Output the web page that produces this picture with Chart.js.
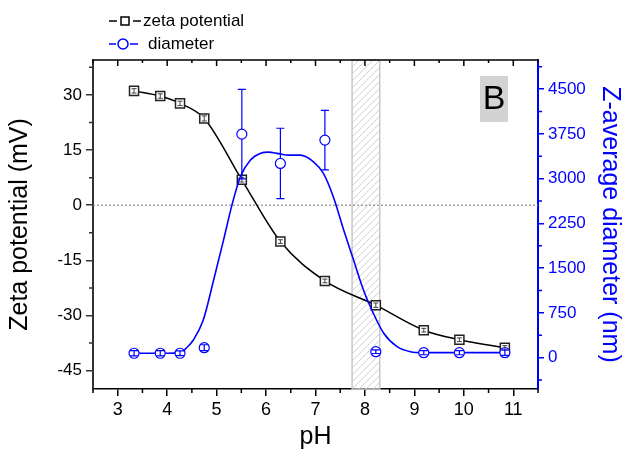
<!DOCTYPE html>
<html>
<head>
<meta charset="utf-8">
<script src="https://cdn.jsdelivr.net/npm/chart.js@4.4.1/dist/chart.umd.min.js"></script>
<style>
  body { margin: 0; background: #fff; }
</style>
</head>
<body>
<canvas id="myChart" width="625" height="452"></canvas>
<script>
// measured points
const ph = [3.33, 3.86, 4.26, 4.75, 5.51, 6.29, 7.19, 8.22, 9.19, 9.91, 10.83];
const zeta = [31.1, 29.7, 27.7, 23.6, 6.9, -9.9, -20.6, -27.2, -34.0, -36.6, -38.8];
const zetaErr = [0.6, 0.6, 0.6, 0.7, 0.6, 0.5, 0.5, 0.6, 0.5, 0.5, 0.6];
const diameter = [74, 74, 74, 167, 3747, 3256, 3647, 100, 84, 84, 84];
const diameterErr = [45, 45, 40, 50, 750, 590, 500, 30, 35, 35, 45];

// fitted diameter curve
const fitPh = [3.33, 4.0, 4.26, 4.4, 4.53, 4.73, 4.94, 5.14, 5.31, 5.48, 5.68, 5.88, 6.05, 6.25, 6.45, 6.69, 6.96, 7.16, 7.36, 7.57, 7.77, 7.97, 8.17, 8.38, 8.65, 8.92, 9.19, 10.83];
const fitD = [74, 74, 85, 170, 296, 631, 1301, 1971, 2557, 3032, 3311, 3423, 3445, 3420, 3395, 3395, 3283, 3089, 2697, 2139, 1636, 1134, 744, 409, 184, 100, 84, 84];

// shaded pH band
const bandRange = [7.74, 8.30];

// ticks
const phTicks = [3, 4, 5, 6, 7, 8, 9, 10, 11];
const phMinor = [2.5, 3.5, 4.5, 5.5, 6.5, 7.5, 8.5, 9.5, 10.5, 11.5];
const zetaTicks = [-45, -30, -15, 0, 15, 30];
const zetaMinor = [-37.5, -22.5, -7.5, 7.5, 22.5, 37.5];
const diaTicks = [0, 750, 1500, 2250, 3000, 3750, 4500];
const diaMinor = [-375, 375, 1125, 1875, 2625, 3375, 4125, 4875];

const BLUE = '#0000ff';
const FONT = "'Liberation Sans', Arial, sans-serif";

function drawErr(c, xs, ys, xv, yv, ev, color, r, cap, lw) {
    c.save();
    c.strokeStyle = color;
    c.lineWidth = lw;
    for (let i = 0; i < xv.length; i++) {
        const px = xs.getPixelForValue(xv[i]);
        const py = ys.getPixelForValue(yv[i]);
        const top = ys.getPixelForValue(yv[i] + ev[i]);
        const bot = ys.getPixelForValue(yv[i] - ev[i]);
        c.beginPath();
        if (py - top > r) {
            c.moveTo(px, top); c.lineTo(px, py - r);
            c.moveTo(px, py + r); c.lineTo(px, bot);
        } else {
            c.moveTo(px, top); c.lineTo(px, bot);
        }
        c.moveTo(px - cap, top); c.lineTo(px + cap, top);
        c.moveTo(px - cap, bot); c.lineTo(px + cap, bot);
        c.stroke();
    }
    c.restore();
}

const extras = {
    id: 'extras',
    beforeDatasetsDraw(chart) {
        const c = chart.ctx, a = chart.chartArea;
        const xs = chart.scales.x, ys = chart.scales.y;
        // hatched band
        const x1 = xs.getPixelForValue(bandRange[0]);
        const x2 = xs.getPixelForValue(bandRange[1]);
        c.save();
        c.beginPath();
        c.rect(x1, a.top, x2 - x1, a.bottom - a.top);
        c.clip();
        c.strokeStyle = '#cfcfcf';
        c.lineWidth = 1;
        c.beginPath();
        for (let k = a.top - (x2 - x1); k < a.bottom + (x2 - x1); k += 7) {
            c.moveTo(x1, k + (x2 - x1));
            c.lineTo(x2, k);
        }
        c.stroke();
        c.restore();
        c.save();
        c.strokeStyle = '#c8c8c8';
        c.lineWidth = 1.5;
        c.strokeRect(x1, a.top, x2 - x1, a.bottom - a.top);
        // zero line
        const y0 = ys.getPixelForValue(0);
        c.strokeStyle = '#777';
        c.lineWidth = 1;
        c.setLineDash([2, 2]);
        c.beginPath();
        c.moveTo(a.left, y0);
        c.lineTo(a.right, y0);
        c.stroke();
        c.restore();
    },
    afterDatasetsDraw(chart) {
        const c = chart.ctx;
        drawErr(c, chart.scales.x, chart.scales.y, ph, zeta, zetaErr, '#444', 4.5, 2.5, 1);
        drawErr(c, chart.scales.x, chart.scales.y2, ph, diameter, diameterErr, BLUE, 5, 4, 1.2);
    },
    afterDraw(chart) {
        const c = chart.ctx, a = chart.chartArea;
        const xs = chart.scales.x, ys = chart.scales.y, y2 = chart.scales.y2;
        c.save();
        // top frame line with inward ticks
        c.strokeStyle = '#000';
        c.lineWidth = 1.5;
        c.beginPath();
        c.moveTo(a.left, a.top); c.lineTo(a.right, a.top);
        phTicks.forEach(v => { const p = xs.getPixelForValue(v); c.moveTo(p, a.top); c.lineTo(p, a.top + 6); });
        phMinor.forEach(v => { const p = xs.getPixelForValue(v); c.moveTo(p, a.top); c.lineTo(p, a.top + 3); });
        // bottom minor ticks
        phMinor.forEach(v => { const p = xs.getPixelForValue(v); c.moveTo(p, a.bottom); c.lineTo(p, a.bottom + 4); });
        c.stroke();
        c.strokeStyle = '#333';
        c.beginPath();
        zetaMinor.forEach(v => { const p = ys.getPixelForValue(v); c.moveTo(a.left, p); c.lineTo(a.left - 4, p); });
        c.stroke();
        c.strokeStyle = BLUE;
        c.beginPath();
        diaMinor.forEach(v => { const p = y2.getPixelForValue(v); c.moveTo(a.right, p); c.lineTo(a.right + 4, p); });
        c.stroke();

        // "B" label
        c.fillStyle = '#d3d3d3';
        c.fillRect(480, 76, 28, 46);
        c.fillStyle = '#000';
        c.font = '34px ' + FONT;
        c.textAlign = 'center';
        c.textBaseline = 'middle';
        c.fillText('B', 494, 100);

        // legend
        c.textAlign = 'left';
        c.font = '17px ' + FONT;
        c.lineWidth = 1.5;
        c.strokeStyle = '#000';
        c.beginPath();
        c.moveTo(109, 21); c.lineTo(117, 21);
        c.moveTo(133, 21); c.lineTo(141, 21);
        c.stroke();
        c.fillStyle = '#fff';
        c.fillRect(121, 17, 8, 8);
        c.strokeRect(121, 17, 8, 8);
        c.fillStyle = '#000';
        c.fillText('zeta potential', 143, 21);
        c.strokeStyle = BLUE;
        c.beginPath();
        c.moveTo(109, 44); c.lineTo(116, 44);
        c.moveTo(130, 44); c.lineTo(138, 44);
        c.stroke();
        c.beginPath();
        c.arc(123, 44, 5, 0, Math.PI * 2);
        c.stroke();
        c.fillStyle = '#000';
        c.fillText('diameter', 148, 44);
        c.restore();
    }
};

const ctx = document.getElementById('myChart');
const myChart = new Chart(ctx, {
    type: 'line',
    data: {
        datasets: [{
            label: 'diameter',
            data: ph.map((v, i) => ({ x: v, y: diameter[i] })),
            yAxisID: 'y2',
            showLine: false,
            pointStyle: 'circle',
            pointRadius: 5,
            pointBorderWidth: 1.2,
            pointBorderColor: BLUE,
            pointBackgroundColor: '#fff',
            order: 0
        }, {
            label: 'fit',
            data: fitPh.map((v, i) => ({ x: v, y: fitD[i] })),
            yAxisID: 'y2',
            borderColor: BLUE,
            borderWidth: 1.6,
            pointRadius: 0,
            cubicInterpolationMode: 'monotone',
            order: 1
        }, {
            label: 'zeta potential',
            data: ph.map((v, i) => ({ x: v, y: zeta[i] })),
            yAxisID: 'y',
            borderColor: '#000',
            borderWidth: 1.5,
            pointStyle: 'rect',
            pointRadius: 6.4,
            pointBorderWidth: 1.5,
            pointBorderColor: '#222',
            pointBackgroundColor: '#fff',
            cubicInterpolationMode: 'monotone',
            order: 2
        }]
    },
    options: {
        responsive: false,
        animation: false,
        layout: { padding: { top: 60, left: 0, right: 0, bottom: 0 } },
        plugins: { legend: { display: false }, tooltip: { enabled: false } },
        scales: {
            x: {
                type: 'linear', position: 'bottom', min: 2.5, max: 11.5,
                afterBuildTicks: s => { s.ticks = phTicks.map(v => ({ value: v })); },
                afterFit: s => { s.height = 63; },
                grid: { drawOnChartArea: false, tickLength: 7, color: '#000', lineWidth: 1.5 },
                border: { color: '#000', width: 1.5 },
                ticks: { font: { size: 18, family: FONT }, color: '#000', padding: 3, callback: v => String(v) },
                title: { display: true, text: 'pH', font: { size: 25, family: FONT }, color: '#000', padding: 0 }
            },
            y: {
                type: 'linear', position: 'left', min: -50, max: 39.5,
                afterBuildTicks: s => { s.ticks = zetaTicks.map(v => ({ value: v })); },
                afterFit: s => { s.width = 93; },
                grid: { drawOnChartArea: false, tickLength: 7, color: '#333', lineWidth: 1.5 },
                border: { color: '#333', width: 2 },
                ticks: { font: { size: 17, family: FONT }, color: '#000', padding: 4, callback: v => String(v) },
                title: { display: true, text: 'Zeta potential (mV)', font: { size: 25, family: FONT }, color: '#000', padding: { top: 5, bottom: 0 } }
            },
            y2: {
                type: 'linear', position: 'right', min: -525, max: 4990,
                afterBuildTicks: s => { s.ticks = diaTicks.map(v => ({ value: v })); },
                afterFit: s => { s.width = 87; },
                grid: { drawOnChartArea: false, tickLength: 6, color: BLUE, lineWidth: 1.5 },
                border: { color: BLUE, width: 2 },
                ticks: { font: { size: 17, family: FONT }, color: BLUE, padding: 4, callback: v => String(v) },
                title: { display: true, text: 'Z-average diameter (nm)', font: { size: 25, family: FONT }, color: BLUE, padding: { top: 0, bottom: 0 } }
            }
        }
    },
    plugins: [extras]
});
</script>
</body>
</html>
